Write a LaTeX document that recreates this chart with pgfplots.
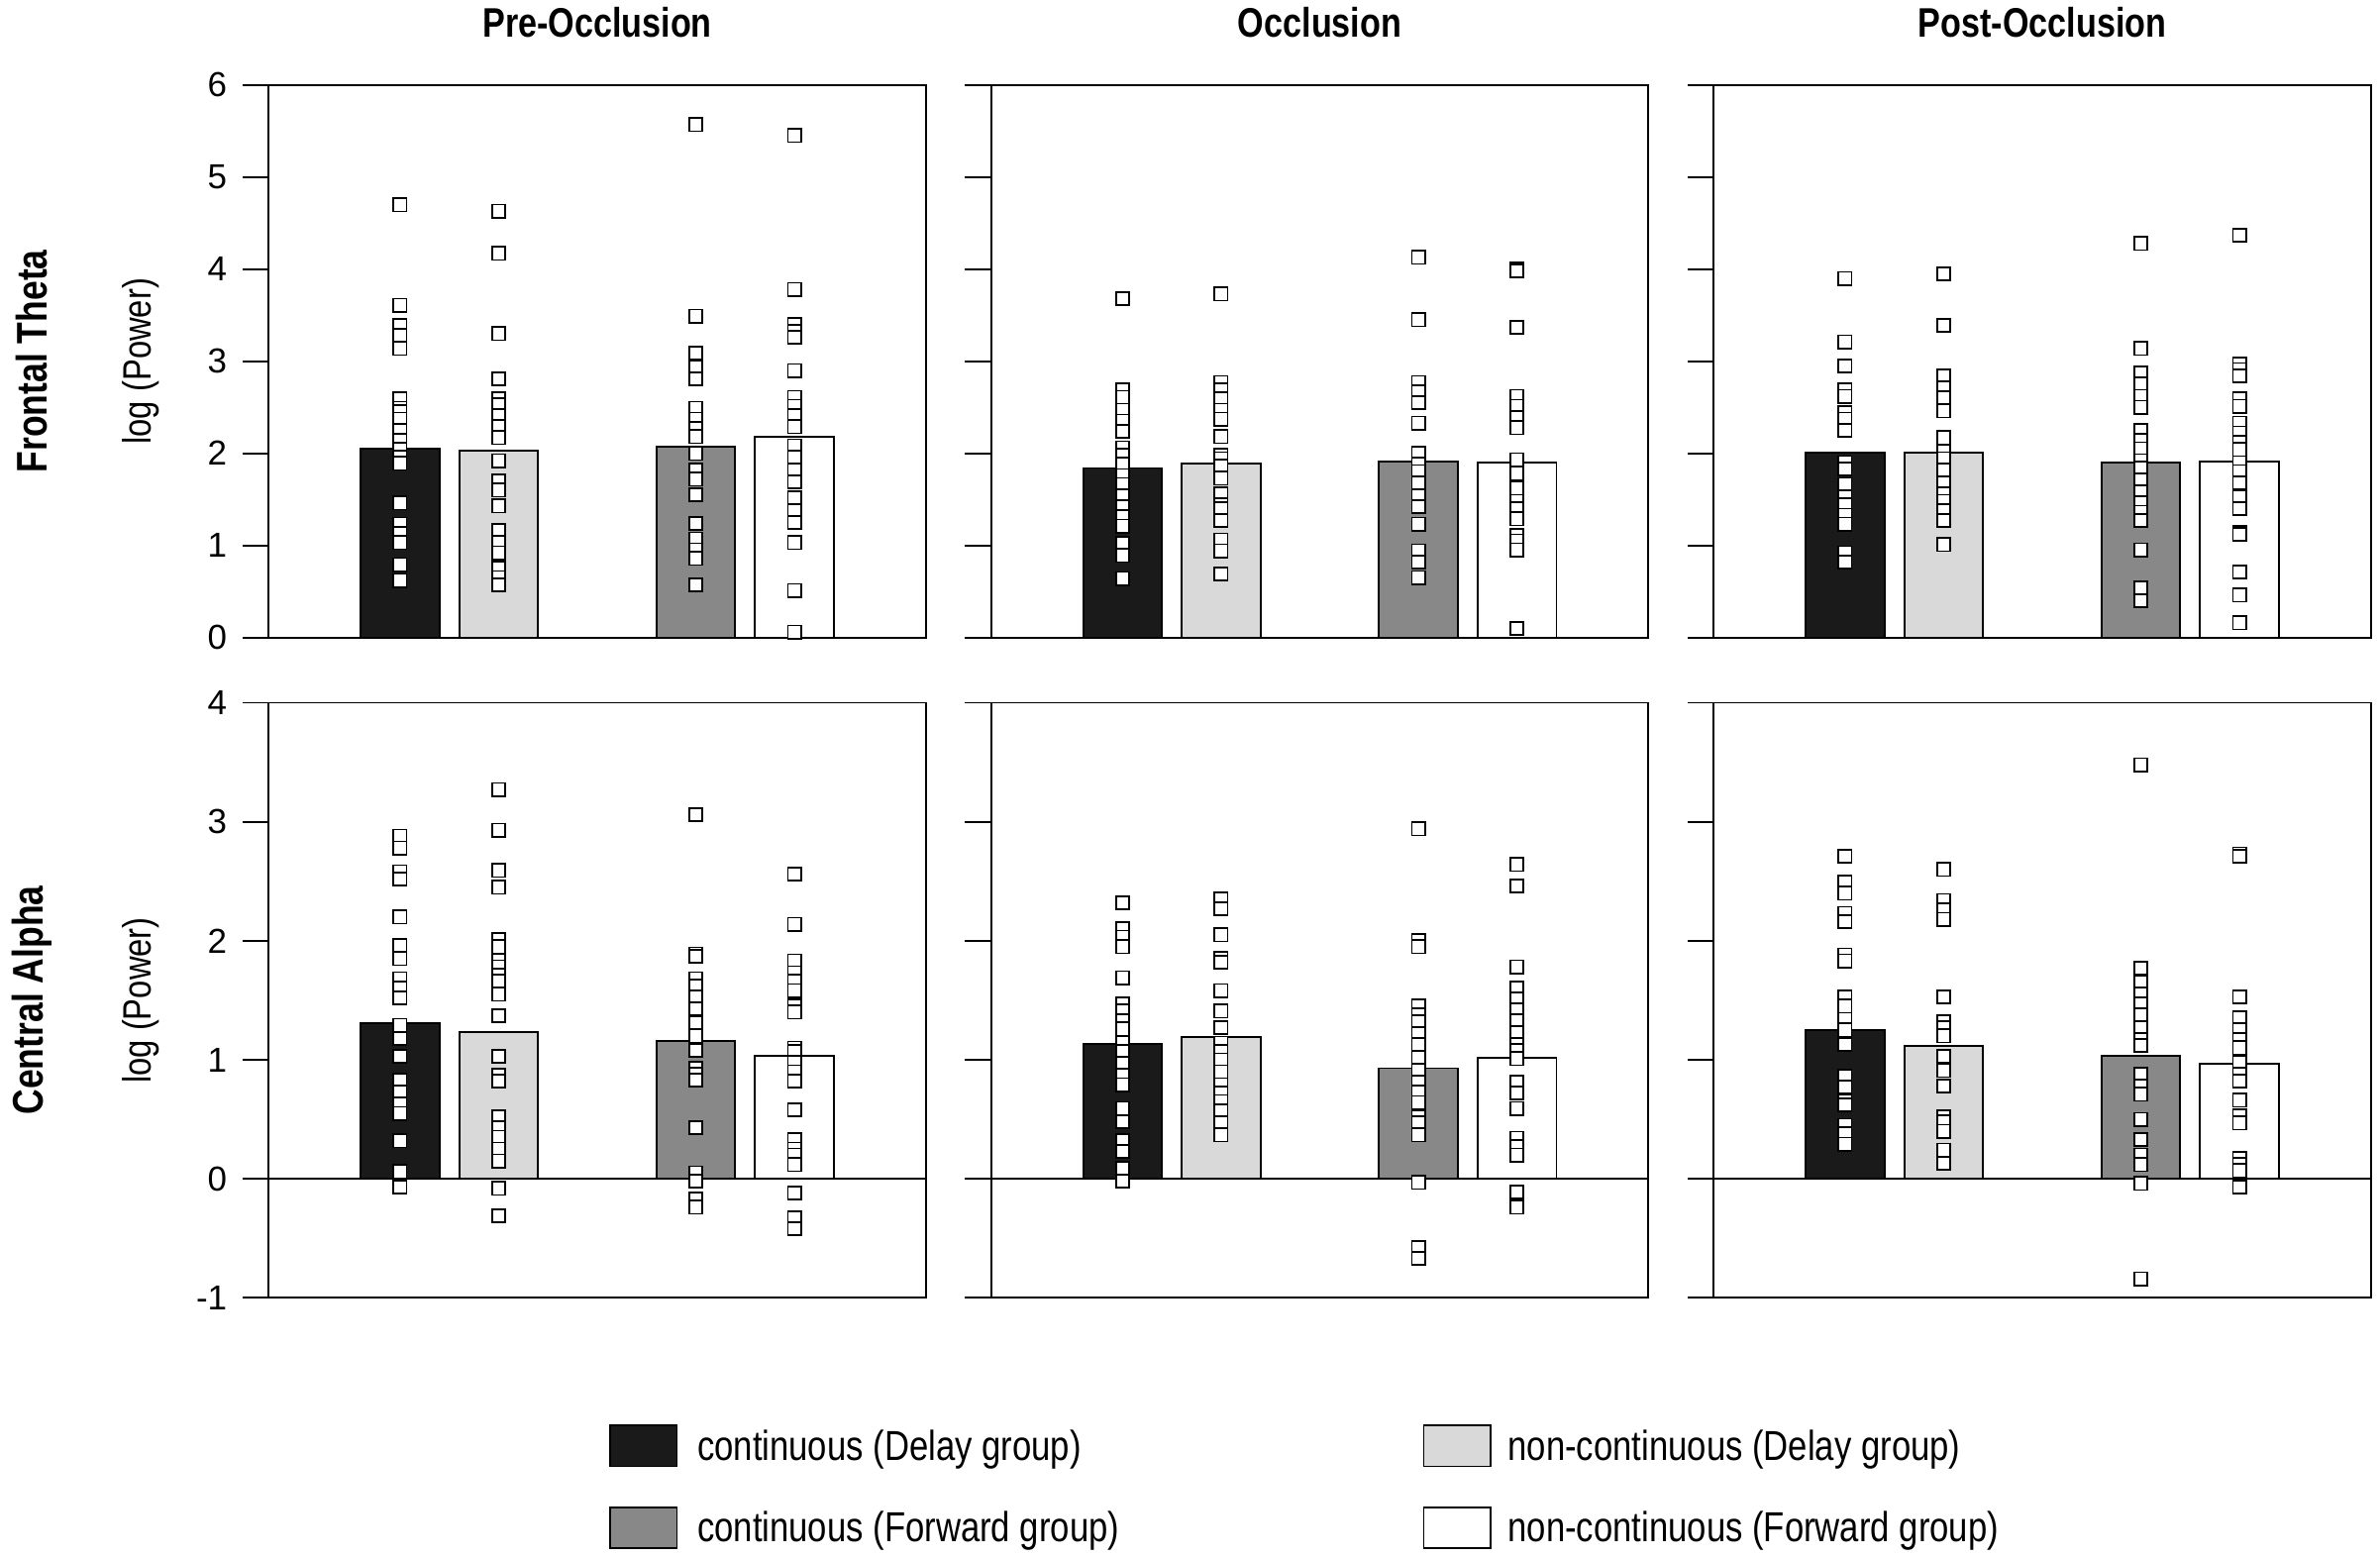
\documentclass[border=0pt]{standalone}
\usepackage{pgfplots}
\pgfplotsset{compat=1.18}
\usepackage{fontspec}
\setmainfont{Liberation Sans}
\newfontfamily\cond[FakeStretch=0.82]{Liberation Sans}
\definecolor{cblack}{HTML}{1A1A1A}
\definecolor{clight}{HTML}{D9D9D9}
\definecolor{cgray}{HTML}{888888}
\pgfplotsset{
  panel/.style={scale only axis, width=199.18pt, xmin=-0.3333, xmax=6.3333,
    xtick=\empty, ytick pos=left, tick align=outside, major tick length=7.9pt,
    axis line style={line width=0.55pt, black}, every tick/.style={black, line width=0.55pt},
    clip=false, anchor=north west,
    yticklabel style={font=\fontsize{10.5}{10.5}\selectfont, xshift=-1.2pt},
    /pgf/number format/assume math mode=true},
  toprow/.style={height=167.44pt, ymin=0, ymax=6, ytick={0,1,...,6}},
  botrow/.style={height=180.32pt, ymin=-1, ymax=4, ytick={-1,0,1,2,3,4}},
  bA/.style={ybar, bar width=0.8, bar shift=0pt, fill=cblack, draw=black, line width=0.55pt},
  bB/.style={ybar, bar width=0.8, bar shift=0pt, fill=clight, draw=black, line width=0.55pt},
  bC/.style={ybar, bar width=0.8, bar shift=0pt, fill=cgray, draw=black, line width=0.55pt},
  bD/.style={ybar, bar width=0.8, bar shift=0pt, fill=white, draw=black, line width=0.55pt},
  mk/.style={only marks, mark=square*, mark size=2pt, mark options={fill=white, draw=black, line width=0.5pt}},
  zl/.style={black, line width=0.55pt, no marks},
}
\begin{document}
\begin{tikzpicture}
\path[use as bounding box] (0pt,0pt) rectangle (721.28pt,-471.96pt);

% ---------- Frontal Theta, Pre-Occlusion
\begin{axis}[panel, toprow, at={(81.42pt,-25.76pt)}]
\addplot[bA] coordinates {(1,2.055)};
\addplot[bB] coordinates {(2,2.03)};
\addplot[bC] coordinates {(4,2.075)};
\addplot[bD] coordinates {(5,2.18)};
\addplot[mk] coordinates {(1,4.70)(1,3.61)(1,3.39)(1,3.28)(1,3.14)(1,2.59)(1,2.49)(1,2.45)(1,2.37)(1,2.25)(1,2.14)(1,2.04)(1,1.96)(1,1.89)(1,1.46)(1,1.23)(1,1.13)(1,1.03)(1,0.79)(1,0.62)};
\addplot[mk] coordinates {(2,4.63)(2,4.17)(2,3.30)(2,2.81)(2,2.59)(2,2.53)(2,2.41)(2,2.29)(2,2.17)(2,1.92)(2,1.70)(2,1.60)(2,1.43)(2,1.16)(2,1.03)(2,0.92)(2,0.75)(2,0.65)(2,0.57)};
\addplot[mk] coordinates {(4,5.57)(4,3.49)(4,3.09)(4,2.93)(4,2.81)(4,2.49)(4,2.37)(4,2.27)(4,2.18)(4,2.00)(4,1.82)(4,1.72)(4,1.55)(4,1.24)(4,1.07)(4,0.95)(4,0.86)(4,0.57)};
\addplot[mk] coordinates {(5,5.45)(5,3.78)(5,3.40)(5,3.32)(5,3.26)(5,2.90)(5,2.61)(5,2.51)(5,2.41)(5,2.29)(5,2.08)(5,1.96)(5,1.82)(5,1.69)(5,1.52)(5,1.38)(5,1.25)(5,1.03)(5,0.51)(5,0.06)};
\end{axis}

% ---------- Frontal Theta, Occlusion
\begin{axis}[panel, toprow, yticklabels={}, at={(300.38pt,-25.76pt)}]
\addplot[bA] coordinates {(1,1.84)};
\addplot[bB] coordinates {(2,1.89)};
\addplot[bC] coordinates {(4,1.91)};
\addplot[bD] coordinates {(5,1.90)};
\addplot[mk] coordinates {(1,3.68)(1,2.69)(1,2.61)(1,2.47)(1,2.35)(1,2.24)(1,2.06)(1,1.98)(1,1.88)(1,1.76)(1,1.66)(1,1.54)(1,1.42)(1,1.31)(1,1.21)(1,1.02)(1,0.89)(1,0.64)};
\addplot[mk] coordinates {(2,3.73)(2,2.77)(2,2.69)(2,2.59)(2,2.47)(2,2.37)(2,2.18)(2,1.98)(2,1.94)(2,1.86)(2,1.73)(2,1.56)(2,1.44)(2,1.40)(2,1.27)(2,1.06)(2,0.94)(2,0.69)};
\addplot[mk] coordinates {(4,4.13)(4,3.45)(4,2.77)(4,2.67)(4,2.55)(4,2.33)(4,2.00)(4,1.88)(4,1.80)(4,1.68)(4,1.54)(4,1.42)(4,1.23)(4,0.94)(4,0.82)(4,0.65)};
\addplot[mk] coordinates {(5,4.00)(5,3.98)(5,3.37)(5,2.62)(5,2.51)(5,2.39)(5,2.28)(5,1.93)(5,1.78)(5,1.62)(5,1.48)(5,1.40)(5,1.29)(5,1.11)(5,1.05)(5,0.95)(5,0.10)};
\end{axis}

% ---------- Frontal Theta, Post-Occlusion
\begin{axis}[panel, toprow, yticklabels={}, at={(519.34pt,-25.76pt)}]
\addplot[bA] coordinates {(1,2.01)};
\addplot[bB] coordinates {(2,2.01)};
\addplot[bC] coordinates {(4,1.90)};
\addplot[bD] coordinates {(5,1.91)};
\addplot[mk] coordinates {(1,3.90)(1,3.21)(1,2.95)(1,2.69)(1,2.62)(1,2.44)(1,2.37)(1,2.25)(1,1.90)(1,1.83)(1,1.66)(1,1.53)(1,1.44)(1,1.33)(1,1.23)(1,0.92)(1,0.82)};
\addplot[mk] coordinates {(2,3.95)(2,3.39)(2,2.84)(2,2.71)(2,2.60)(2,2.46)(2,2.17)(2,2.02)(2,1.94)(2,1.82)(2,1.68)(2,1.56)(2,1.48)(2,1.38)(2,1.27)(2,1.01)};
\addplot[mk] coordinates {(4,4.28)(4,3.14)(4,2.87)(4,2.75)(4,2.62)(4,2.50)(4,2.25)(4,2.14)(4,2.05)(4,1.92)(4,1.84)(4,1.71)(4,1.58)(4,1.46)(4,1.36)(4,1.27)(4,0.95)(4,0.54)(4,0.40)};
\addplot[mk] coordinates {(5,4.37)(5,2.97)(5,2.91)(5,2.84)(5,2.59)(5,2.51)(5,2.33)(5,2.22)(5,2.12)(5,2.04)(5,1.90)(5,1.80)(5,1.68)(5,1.53)(5,1.40)(5,1.14)(5,1.12)(5,0.71)(5,0.46)(5,0.16)};
\end{axis}

% ---------- Central Alpha, Pre-Occlusion
\begin{axis}[panel, botrow, at={(81.42pt,-212.98pt)}]
\addplot[bA] coordinates {(1,1.31)};
\addplot[bB] coordinates {(2,1.23)};
\addplot[bC] coordinates {(4,1.16)};
\addplot[bD] coordinates {(5,1.03)};
\addplot[zl] coordinates {(-0.3333,0) (6.3333,0)};
\addplot[mk] coordinates {(1,2.88)(1,2.78)(1,2.58)(1,2.52)(1,2.20)(1,1.96)(1,1.85)(1,1.68)(1,1.60)(1,1.52)(1,1.29)(1,1.18)(1,1.03)(1,0.83)(1,0.73)(1,0.63)(1,0.55)(1,0.32)(1,0.06)(1,-0.07)};
\addplot[mk] coordinates {(2,3.27)(2,2.93)(2,2.59)(2,2.45)(2,2.01)(2,1.95)(2,1.83)(2,1.78)(2,1.71)(2,1.66)(2,1.55)(2,1.37)(2,1.03)(2,0.87)(2,0.82)(2,0.52)(2,0.43)(2,0.35)(2,0.25)(2,0.15)(2,-0.08)(2,-0.31)};
\addplot[mk] coordinates {(4,3.06)(4,1.89)(4,1.87)(4,1.68)(4,1.62)(4,1.53)(4,1.43)(4,1.31)(4,1.20)(4,1.08)(4,0.93)(4,0.88)(4,0.83)(4,0.43)(4,0.05)(4,-0.02)(4,-0.17)(4,-0.24)};
\addplot[mk] coordinates {(5,2.56)(5,2.14)(5,1.83)(5,1.73)(5,1.66)(5,1.58)(5,1.45)(5,1.40)(5,1.10)(5,1.07)(5,0.98)(5,0.90)(5,0.82)(5,0.58)(5,0.33)(5,0.25)(5,0.20)(5,0.12)(5,-0.12)(5,-0.33)(5,-0.42)};
\end{axis}

% ---------- Central Alpha, Occlusion
\begin{axis}[panel, botrow, yticklabels={}, at={(300.38pt,-212.98pt)}]
\addplot[bA] coordinates {(1,1.13)};
\addplot[bB] coordinates {(2,1.19)};
\addplot[bC] coordinates {(4,0.93)};
\addplot[bD] coordinates {(5,1.02)};
\addplot[zl] coordinates {(-0.3333,0) (6.3333,0)};
\addplot[mk] coordinates {(1,2.32)(1,2.10)(1,2.03)(1,1.95)(1,1.69)(1,1.47)(1,1.41)(1,1.33)(1,1.26)(1,1.14)(1,1.07)(1,0.97)(1,0.87)(1,0.79)(1,0.59)(1,0.48)(1,0.32)(1,0.23)(1,0.09)(1,-0.02)};
\addplot[mk] coordinates {(2,2.35)(2,2.27)(2,2.05)(2,1.85)(2,1.82)(2,1.58)(2,1.41)(2,1.27)(2,1.14)(2,1.07)(2,1.00)(2,0.90)(2,0.79)(2,0.72)(2,0.65)(2,0.57)(2,0.47)(2,0.37)};
\addplot[mk] coordinates {(4,2.94)(4,2.00)(4,1.95)(4,1.45)(4,1.38)(4,1.32)(4,1.22)(4,1.13)(4,1.02)(4,0.91)(4,0.81)(4,0.73)(4,0.64)(4,0.52)(4,0.47)(4,0.37)(4,-0.03)(4,-0.58)(4,-0.67)};
\addplot[mk] coordinates {(5,2.64)(5,2.46)(5,1.78)(5,1.60)(5,1.51)(5,1.42)(5,1.33)(5,1.23)(5,1.13)(5,1.08)(5,1.01)(5,0.81)(5,0.72)(5,0.59)(5,0.34)(5,0.27)(5,0.20)(5,-0.11)(5,-0.24)};
\end{axis}

% ---------- Central Alpha, Post-Occlusion
\begin{axis}[panel, botrow, yticklabels={}, at={(519.34pt,-212.98pt)}]
\addplot[bA] coordinates {(1,1.25)};
\addplot[bB] coordinates {(2,1.12)};
\addplot[bC] coordinates {(4,1.03)};
\addplot[bD] coordinates {(5,0.97)};
\addplot[zl] coordinates {(-0.3333,0) (6.3333,0)};
\addplot[mk] coordinates {(1,2.71)(1,2.49)(1,2.40)(1,2.23)(1,2.16)(1,1.88)(1,1.83)(1,1.53)(1,1.45)(1,1.34)(1,1.25)(1,1.13)(1,0.86)(1,0.77)(1,0.65)(1,0.62)(1,0.45)(1,0.38)(1,0.29)};
\addplot[mk] coordinates {(2,2.60)(2,2.34)(2,2.26)(2,2.18)(2,1.53)(2,1.32)(2,1.27)(2,1.20)(2,1.03)(2,0.91)(2,0.78)(2,0.52)(2,0.48)(2,0.40)(2,0.24)(2,0.13)};
\addplot[mk] coordinates {(4,3.48)(4,1.77)(4,1.65)(4,1.55)(4,1.47)(4,1.38)(4,1.27)(4,1.17)(4,1.12)(4,0.88)(4,0.78)(4,0.71)(4,0.50)(4,0.33)(4,0.20)(4,0.12)(4,-0.04)(4,-0.84)};
\addplot[mk] coordinates {(5,2.73)(5,2.71)(5,1.53)(5,1.35)(5,1.25)(5,1.17)(5,1.10)(5,0.98)(5,0.88)(5,0.82)(5,0.66)(5,0.53)(5,0.47)(5,0.17)(5,0.12)(5,0.07)(5,-0.07)};
\end{axis}

% ---------- titles and labels
\node[font=\cond\bfseries\fontsize{12.5}{12.5}\selectfont] at (181.0pt,-6.9pt) {Pre-Occlusion};
\node[font=\cond\bfseries\fontsize{12.5}{12.5}\selectfont] at (399.97pt,-6.9pt) {Occlusion};
\node[font=\cond\bfseries\fontsize{12.5}{12.5}\selectfont] at (618.93pt,-6.9pt) {Post-Occlusion};
\node[rotate=90, font=\cond\bfseries\fontsize{13}{13}\selectfont] at (9.66pt,-109.48pt) {Frontal Theta};
\node[rotate=90, font=\cond\bfseries\fontsize{13}{13}\selectfont] at (9.66pt,-303.14pt) {Central Alpha};
\node[rotate=90, font=\cond\fontsize{12}{12}\selectfont] at (42.78pt,-109.48pt) {log (Power)};
\node[rotate=90, font=\cond\fontsize{12}{12}\selectfont] at (42.78pt,-303.14pt) {log (Power)};

% ---------- legend
\draw[fill=cblack, line width=0.55pt] (184.92pt,-431.94pt) rectangle (205.16pt,-444.36pt);
\draw[fill=cgray, line width=0.55pt] (184.92pt,-456.78pt) rectangle (205.16pt,-469.2pt);
\draw[fill=clight, line width=0.55pt] (431.48pt,-431.94pt) rectangle (451.72pt,-444.36pt);
\draw[fill=white, line width=0.55pt] (431.48pt,-456.78pt) rectangle (451.72pt,-469.2pt);
\node[anchor=west, inner sep=0pt, font=\cond\fontsize{12.7}{12.7}\selectfont] at (211.14pt,-439.2pt) {continuous (Delay group)};
\node[anchor=west, inner sep=0pt, font=\cond\fontsize{12.7}{12.7}\selectfont] at (211.14pt,-464.0pt) {continuous (Forward group)};
\node[anchor=west, inner sep=0pt, font=\cond\fontsize{12.7}{12.7}\selectfont] at (456.78pt,-439.2pt) {non-continuous (Delay group)};
\node[anchor=west, inner sep=0pt, font=\cond\fontsize{12.7}{12.7}\selectfont] at (456.78pt,-464.0pt) {non-continuous (Forward group)};
\end{tikzpicture}
\end{document}
